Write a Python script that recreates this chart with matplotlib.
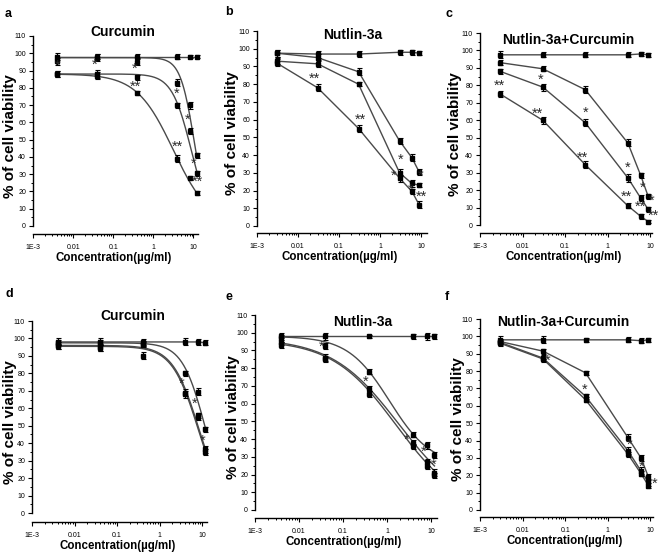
import numpy as np
import matplotlib.pyplot as plt
from matplotlib.ticker import FixedLocator, NullFormatter

plt.rcParams['font.family'] = ['Liberation Sans', 'DejaVu Sans']

# concentrations (ug/ml)
conc_cur = [0.004, 0.04, 0.4, 4, 8, 12]
conc_nut = [0.003, 0.03, 0.3, 3, 6, 9]

# % viability, 4 series per panel (control first)
viab_a = [[98, 98, 98, 98, 98, 98],
          [95.5, 97.5, 95, 83, 70, 41],
          [88, 88, 86, 70, 55, 30.5],
          [88, 87, 77, 39, 28, 19]]
err_a = [[2, 1.5, 1.5, 1.5, 1, 1],
         [2, 2, 2, 2, 2, 1.5],
         [2, 2.5, 1.5, 1.5, 2, 1.5],
         [1.5, 2, 1, 2, 1, 1]]

viab_b = [[97.5, 97, 97, 98, 98, 97.5],
          [97.5, 95, 87, 48, 38.5, 30.5],
          [93, 91.5, 80, 30, 24, 23],
          [92, 78, 55, 27, 19.5, 12]]
err_b = [[2, 2, 1.5, 1.5, 1.5, 1],
         [2, 2, 2, 1.5, 2, 1.5],
         [1.5, 2, 1, 2, 2, 1],
         [2, 2, 2, 2, 1.5, 2]]

viab_c = [[97.5, 97.5, 97.5, 97.5, 98, 97.5],
          [93, 89.5, 77.5, 47, 28.5, 16.5],
          [88, 79, 58.5, 27, 15.5, 9],
          [75, 60, 34.5, 11, 5, 2]]
err_c = [[2, 1.5, 1.5, 1.5, 1, 1],
         [1.5, 1.5, 2, 2, 1.5, 1.5],
         [1.5, 2, 2, 2.5, 1.5, 1.5],
         [1.5, 2, 2, 1.5, 1.5, 1]]

viab_d = [[98, 98, 98, 98, 98, 97.5],
          [97.5, 97.5, 97, 80, 69.5, 48],
          [96, 95, 90, 69, 56, 36.5],
          [95.5, 94.5, 96.5, 68, 55, 35]]
err_d = [[2, 2, 1.5, 2, 1.5, 1.5],
         [1.5, 1.5, 1.5, 1.5, 2, 1.5],
         [2, 2, 2, 2, 1.5, 2],
         [1.5, 1.5, 1.5, 2, 1.5, 1.5]]

viab_e = [[98, 98, 98, 98, 98, 98],
          [97, 92.5, 78, 42.5, 36.5, 31],
          [95, 86, 68.5, 38, 27, 21],
          [93, 85, 65.5, 36, 25, 19.5]]
err_e = [[2, 2, 1, 1.5, 2, 1.5],
         [2, 1.5, 1.5, 1.5, 2, 1.5],
         [2, 2, 1.5, 1.5, 2, 2],
         [1.5, 1.5, 1.5, 1.5, 2, 1.5]]

viab_f = [[98, 98, 98, 98, 97.5, 98],
          [97, 91.5, 79, 41.5, 30, 19],
          [96.5, 87.5, 65.5, 34, 22.5, 16],
          [96, 87, 63.5, 32, 21, 14]]
err_f = [[2, 2, 1, 1.5, 1.5, 1],
         [1.5, 1.5, 1, 2, 1.5, 1.5],
         [1.5, 1.5, 1.5, 2, 2, 2],
         [1.5, 1.5, 1.5, 1.5, 1.5, 1.5]]

# fitted dose-response curves (top, bottom, EC50, hill); None = straight line
fit_a = [None, (97.5, 0, 10.5, 2.5), (88, 0, 8.8, 1.8), (88, 0, 3.15, 0.95)]
fit_d = [None, (97.5, 0, 12, 1.6), (96, 0, 8.5, 1.4), (95.5, 0, 8.2, 1.4)]
fit_e = [None, (98, 25, 1.14, 0.92), (97, 0, 1.85, 0.57), (96, 0, 1.6, 0.6)]
no_fit = [None, None, None, None]

# significance marks (x, y, text)
stars_a = [(0.004, 94.8, '*'), (0.034, 95.6, '*'), (0.34, 93.2, '*'), (0.36, 82.6, '**'),
           (3.76, 78.8, '*'), (7.1, 63.3, '*'), (3.9, 47.9, '**'), (10.4, 38.2, '*'),
           (12.6, 27.6, '**')]
stars_b = [(0.025, 85.2, '**'), (0.33, 62, '**'), (3.1, 39.5, '*'), (2.1, 30.6, '*'),
           (5.6, 22.6, '*'), (9.6, 30.6, '*'), (10.5, 18.4, '**')]
stars_c = [(0.0029, 81.6, '**'), (0.026, 85.5, '*'), (0.023, 66, '**'), (0.3, 66.3, '*'),
           (0.25, 40.7, '**'), (3.0, 35, '*'), (2.75, 18.5, '**'), (6.7, 23.3, '*'),
           (6.0, 12.4, '**'), (11, 15.9, '*'), (12, 7.3, '**')]
stars_d = [(3.37, 76.2, '*'), (6.6, 64.8, '*'), (10.6, 43.4, '*')]
stars_e = [(0.033, 94, '*'), (0.33, 74.2, '*'), (2.8, 41.4, '*'), (6.9, 34.8, '*'),
           (11.2, 27.3, '*')]
stars_f = [(0.038, 88, '*'), (0.29, 71.5, '*'), (3.3, 39.4, '*'), (6.3, 27, '*'),
           (12.5, 17.3, '*')]

titles = ['Curcumin', 'Nutlin-3a', 'Nutlin-3a+Curcumin',
          'Curcumin', 'Nutlin-3a', 'Nutlin-3a+Curcumin']
letters = ['a', 'b', 'c', 'd', 'e', 'f']
x_ticks = [1e-3, 0.01, 0.1, 1, 10]
x_ticklabels = ['1E-3', '0.01', '0.1', '1', '10']

panels = [
    (conc_cur, viab_a, err_a, fit_a, stars_a),
    (conc_nut, viab_b, err_b, no_fit, stars_b),
    (conc_nut, viab_c, err_c, no_fit, stars_c),
    (conc_cur, viab_d, err_d, fit_d, stars_d),
    (conc_cur, viab_e, err_e, fit_e, stars_e),
    (conc_nut, viab_f, err_f, no_fit, stars_f),
]

# layout in pixels: x of 1E-3, x of axis end, xmax, y of 110, y of 0, y of x-axis line
layout = [
    (33, 198, 13, 36, 226, 234),
    (257, 427, 14, 31, 226, 233),
    (480, 652, 11.1, 33, 225, 233),
    (32, 207, 13.1, 321, 513, 522),
    (255, 437, 13.7, 315, 510, 518),
    (480, 653, 11.5, 319, 510, 517),
]
title_pos = [(123, 32), (353, 35), (568, 40), (133, 316), (363, 322), (563, 322)]
letter_pos = [(5, 14), (225, 12), (445, 14), (5, 294), (225, 297), (445, 297)]
ylabel_x = [10, 232, 455, 10, 233, 458]

W, H = 661, 559
fig = plt.figure(figsize=(W / 100, H / 100), dpi=100)
line_col = '#4a4a4a'
star_size = 10.5

for i, (conc, viab, err, fits, stars) in enumerate(panels):
    x0, x1, xmax, ytop, yzero, yaxis = layout[i]
    ax = fig.add_axes([x0 / W, 1 - yzero / H, (x1 - x0) / W, (yzero - ytop) / H])
    ax.set_xscale('log')
    ax.set_xlim(1e-3, xmax)
    ax.set_ylim(0, 110)
    for s in ['top', 'right']:
        ax.spines[s].set_visible(False)
    ax.spines['bottom'].set_position(('outward', (yaxis - yzero) * 0.72))
    for s in ['left', 'bottom']:
        ax.spines[s].set_linewidth(1.0)

    for k in range(4):
        if fits[k] is None:
            ax.plot(conc, viab[k], color=line_col, lw=1.0, zorder=2)
        else:
            top, bot, ec50, hill = fits[k]
            xs = np.logspace(np.log10(conc[0]), np.log10(conc[-1]), 200)
            ax.plot(xs, bot + (top - bot) / (1 + (xs / ec50) ** hill),
                    color=line_col, lw=1.0, zorder=2)
        ax.errorbar(conc, viab[k], yerr=err[k], fmt='s', ms=2.6, color='black',
                    ecolor='black', elinewidth=0.8, capsize=1.8, capthick=0.8,
                    zorder=3, clip_on=False)

    # asterisk glyph sits high in the line box, so anchor by baseline and shift down
    for sx, sy, st in stars:
        ax.annotate(st, (sx, sy), xytext=(0, -0.52 * star_size), textcoords='offset points',
                    ha='center', va='baseline', fontsize=star_size, color='#2a2a2a',
                    zorder=4, annotation_clip=False)

    ax.xaxis.set_major_locator(FixedLocator(x_ticks))
    ax.set_xticklabels(x_ticklabels)
    minors = [m * 10.0 ** d for d in range(-3, 2) for m in range(2, 10)]
    ax.xaxis.set_minor_locator(FixedLocator(minors))
    ax.xaxis.set_minor_formatter(NullFormatter())
    ax.set_yticks(range(0, 111, 10))
    ax.yaxis.set_minor_locator(FixedLocator(range(5, 110, 10)))
    ax.tick_params(which='major', direction='out', length=3, width=0.8,
                   labelsize=5, pad=2)
    ax.tick_params(axis='x', which='major', pad=4)
    ax.tick_params(which='minor', direction='out', length=1.6, width=0.7)

    tx, ty = title_pos[i]
    fig.text(tx / W, 1 - ty / H, titles[i], ha='center', va='center',
             fontsize=10, fontweight='bold')
    lx, ly = letter_pos[i]
    fig.text(lx / W, 1 - ly / H, letters[i], ha='left', va='center',
             fontsize=9, fontweight='bold')
    fig.text(ylabel_x[i] / W, 1 - ((ytop + yzero) / 2 + 5) / H, '% of cell viability',
             rotation=90, ha='center', va='center', fontsize=11, fontweight='bold')
    fig.text(((x0 + x1) / 2 - 2) / W, 1 - (yaxis + 24) / H, 'Concentration(\u00b5g/ml)',
             ha='center', va='center', fontsize=8.3, fontweight='bold')

fig.savefig('out.png', dpi=100)
